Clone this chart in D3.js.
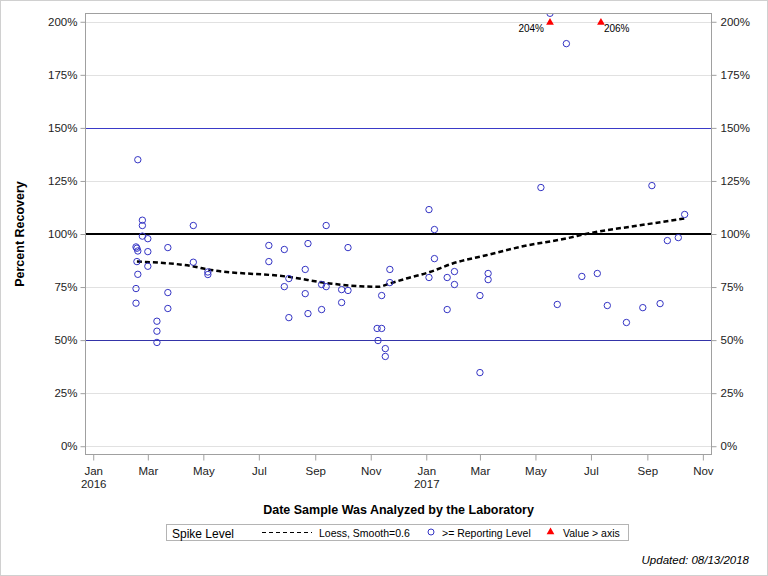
<!DOCTYPE html>
<html>
<head>
<meta charset="utf-8">
<script src="https://cdn.jsdelivr.net/npm/d3@7"></script>
<style>
  body { margin: 0; background: #fff; }
  svg { display: block; font-family: "Liberation Sans", Arial, sans-serif; }
</style>
</head>
<body>
<svg id="chart" width="768" height="576"></svg>
<script>
// sample dates and percent recovery
var sampleDates = [
  "2016-02-19","2016-02-24","2016-02-24","2016-02-24","2016-03-01","2016-02-17","2016-02-18","2016-02-19",
  "2016-03-01","2016-03-23","2016-02-18","2016-03-01","2016-02-19","2016-02-17","2016-03-23","2016-02-17",
  "2016-03-23","2016-03-11","2016-03-11","2016-03-11","2016-04-20","2016-04-20","2016-05-06","2016-05-06",
  "2016-07-12","2016-07-12","2016-07-29","2016-07-29","2016-08-03","2016-08-03","2016-08-21","2016-08-21",
  "2016-08-24","2016-08-24","2016-09-08","2016-09-08","2016-09-13","2016-09-13","2016-09-30","2016-09-30",
  "2016-10-07","2016-10-07","2016-11-08","2016-11-09","2016-11-13","2016-11-13","2016-11-17","2016-11-17",
  "2016-11-22","2016-11-22","2017-01-04","2017-01-04","2017-01-10","2017-01-10","2017-01-24","2017-01-24",
  "2017-02-01","2017-02-01","2017-03-01","2017-03-01","2017-03-10","2017-03-10","2017-05-07","2017-05-17",
  "2017-05-25","2017-06-04","2017-06-21","2017-07-08","2017-07-12","2017-07-19","2017-08-09","2017-08-27",
  "2017-09-06","2017-09-15","2017-09-23","2017-10-05","2017-10-12"
];
var recovery = [
  135.0,106.5,104.0,99.0,97.8,93.9,93.3,92.0,
  91.7,93.6,87.0,84.8,81.0,74.3,72.4,67.4,
  64.9,58.9,54.2,48.9,104.0,86.7,82.1,80.9,
  94.6,87.0,92.7,75.2,79.0,60.6,83.3,71.9,
  95.5,62.5,76.2,64.4,104.0,75.2,73.8,67.7,
  93.6,73.4,55.5,49.8,55.5,71.0,46.0,42.3,
  83.3,77.1,111.5,79.5,102.1,88.4,79.5,64.4,
  82.3,76.2,71.0,34.7,81.4,78.5,121.9,204,
  66.8,189.7,80.0,81.4,206,66.3,58.3,65.3,
  122.8,67.2,96.9,98.3,109.2
];

// loess curve (smooth=0.6)
var loessDates = [
  "2016-02-18","2016-04-19","2016-05-06","2016-08-03","2016-09-17","2016-10-20","2016-11-09","2016-11-22",
  "2016-12-10","2017-01-05","2017-01-30","2017-03-08","2017-04-14","2017-06-08","2017-06-24","2017-08-24","2017-10-12"
];
var loessValues = [
  87.0,84.8,83.3,79.8,76.7,75.4,75.1,76.7,
  79.0,82.1,86.1,90.0,93.9,98.3,99.9,104.1,107.3
];

var yTicks = [0,25,50,75,100,125,150,175,200];
var refLines = [50,100,150];
var axisMax = 200;

var parse = d3.timeParse("%Y-%m-%d");
var points = sampleDates.map(function(d, i){ return {date: parse(d), value: recovery[i]}; });
var loess = loessDates.map(function(d, i){ return {date: parse(d), value: loessValues[i]}; });
var over = points.filter(function(p){ return p.value > axisMax; });

var svg = d3.select("#chart");
var pLeft = 85.5, pRight = 711.5, pTop = 13.5, pBottom = 454.5;

var x = d3.scaleTime()
  .domain([new Date(2015, 11, 23, 12), new Date(2017, 10, 10, 12)])
  .range([pLeft, pRight]);
var y = d3.scaleLinear()
  .domain([-3.9, 203.9])
  .range([pBottom, pTop]);

var blue = "#3434c4";
var fmtPct = function(d){ return d + "%"; };
var font = "'Liberation Sans', Arial, sans-serif";

// outer border
svg.append("rect").attr("x", 0.5).attr("y", 0.5).attr("width", 767).attr("height", 575)
  .attr("fill", "none").attr("stroke", "#d0d0d0");

svg.append("clipPath").attr("id", "plotclip")
  .append("rect").attr("x", pLeft).attr("y", pTop).attr("width", pRight - pLeft).attr("height", pBottom - pTop);

// gridlines
svg.append("g").selectAll("line").data(yTicks).enter().append("line")
  .attr("x1", pLeft).attr("x2", pRight)
  .attr("y1", function(d){ return Math.round(y(d)) + 0.5; })
  .attr("y2", function(d){ return Math.round(y(d)) + 0.5; })
  .style("stroke", "#e1e1e1");

// reference lines
svg.append("g").selectAll("line").data(refLines).enter().append("line")
  .attr("x1", pLeft).attr("x2", pRight)
  .attr("y1", function(d){ return Math.round(y(d)) + (d == 100 ? 0 : 0.5); })
  .attr("y2", function(d){ return Math.round(y(d)) + (d == 100 ? 0 : 0.5); })
  .style("stroke", function(d){ return d == 100 ? "#000" : (d == 150 ? "#3a3ac8" : "#3434a8"); })
  .style("stroke-width", function(d){ return d == 100 ? 2 : 1; });

var plot = svg.append("g").attr("clip-path", "url(#plotclip)");

// loess line
plot.append("path").datum(loess)
  .attr("d", d3.line().curve(d3.curveMonotoneX)
    .x(function(d){ return x(d.date); })
    .y(function(d){ return y(d.value); }))
  .style("fill", "none").style("stroke", "#000")
  .style("stroke-width", 2.5).style("stroke-dasharray", "5,3");

// sample points
plot.selectAll("circle").data(points).enter().append("circle")
  .attr("cx", function(d){ return x(d.date); })
  .attr("cy", function(d){ return y(d.value); })
  .attr("r", 3.2)
  .style("fill", "none").style("stroke", blue).style("stroke-width", 1);

// values above the axis
var tri = d3.symbol().type(d3.symbolTriangle).size(26);
svg.append("g").selectAll("path").data(over).enter().append("path")
  .attr("d", tri)
  .attr("transform", function(d){ return "translate(" + x(d.date) + "," + (y(axisMax) + 0.8) + ")"; })
  .style("fill", "#ff0000");
svg.append("g").selectAll("text").data(over).enter().append("text")
  .attr("x", function(d, i){ return x(d.date) + (i == 0 ? -6 : 3); })
  .attr("y", y(axisMax) + 10.5)
  .attr("text-anchor", function(d, i){ return i == 0 ? "end" : "start"; })
  .style("font-size", "10px").style("fill", "#000")
  .text(function(d){ return Math.round(d.value) + "%"; });

// frame
svg.append("rect").attr("x", pLeft).attr("y", pTop).attr("width", pRight - pLeft).attr("height", pBottom - pTop)
  .style("fill", "none").style("stroke", "#a0a0a0");

// y axes
var yAxisL = d3.axisLeft(y).tickValues(yTicks).tickFormat(fmtPct).tickSize(5).tickPadding(3);
var yAxisR = d3.axisRight(y).tickValues(yTicks).tickFormat(fmtPct).tickSize(5).tickPadding(4);
var gl = svg.append("g").attr("transform", "translate(" + pLeft + ",0)").call(yAxisL);
var gr = svg.append("g").attr("transform", "translate(" + pRight + ",0)").call(yAxisR);
[gl, gr].forEach(function(g){
  g.select(".domain").remove();
  g.selectAll(".tick line").style("stroke", "#a0a0a0");
  g.selectAll(".tick text").style("font-size", "11.5px").style("fill", "#222")
    .style("font-family", font);
});

// x axis
var xTicks = d3.timeMonth.every(2).range(new Date(2016, 0, 1), new Date(2017, 10, 2));
var xAxis = d3.axisBottom(x).tickValues(xTicks).tickFormat(d3.timeFormat("%b")).tickSize(6).tickPadding(6);
var gx = svg.append("g").attr("transform", "translate(0," + pBottom + ")").call(xAxis);
gx.select(".domain").remove();
gx.selectAll(".tick line").style("stroke", "#a0a0a0");
gx.selectAll(".tick text").style("font-size", "11.5px").style("fill", "#222")
  .style("font-family", font);
gx.selectAll(".tick").filter(function(d){ return d.getMonth() == 0; })
  .append("text").attr("y", 33).attr("fill", "#222")
  .style("font-size", "11.5px").style("font-family", font)
  .text(function(d){ return d.getFullYear(); });

// titles
svg.append("text").attr("x", (pLeft + pRight) / 2).attr("y", 514)
  .attr("text-anchor", "middle").style("font-size", "12.5px").style("font-weight", "bold")
  .text("Date Sample Was Analyzed by the Laboratory");
svg.append("text").attr("transform", "translate(24," + y(100) + ") rotate(-90)")
  .attr("text-anchor", "middle").style("font-size", "12.5px").style("font-weight", "bold")
  .text("Percent Recovery");

// legend
var lg = svg.append("g");
lg.append("rect").attr("x", 166.5).attr("y", 524.5).attr("width", 462).attr("height", 16)
  .style("fill", "none").style("stroke", "#b4b4b4");
lg.append("text").attr("x", 172).attr("y", 537.5).style("font-size", "12px").text("Spike Level");
lg.append("line").attr("x1", 262).attr("x2", 312).attr("y1", 532.5).attr("y2", 532.5)
  .style("stroke", "#000").style("stroke-dasharray", "4,3");
lg.append("text").attr("x", 319).attr("y", 536.5).style("font-size", "10.5px").text("Loess, Smooth=0.6");
lg.append("circle").attr("cx", 431).attr("cy", 532).attr("r", 3)
  .style("fill", "none").style("stroke", blue);
lg.append("text").attr("x", 442).attr("y", 536.5).style("font-size", "10.5px").text(">= Reporting Level");
lg.append("path").attr("d", tri).attr("transform", "translate(550.5,532)").style("fill", "#ff0000");
lg.append("text").attr("x", 563).attr("y", 536.5).style("font-size", "10.5px").text("Value > axis");

svg.append("text").attr("x", 749).attr("y", 564).attr("text-anchor", "end")
  .style("font-size", "11.5px").style("font-style", "italic").text("Updated: 08/13/2018");
</script>
</body>
</html>
